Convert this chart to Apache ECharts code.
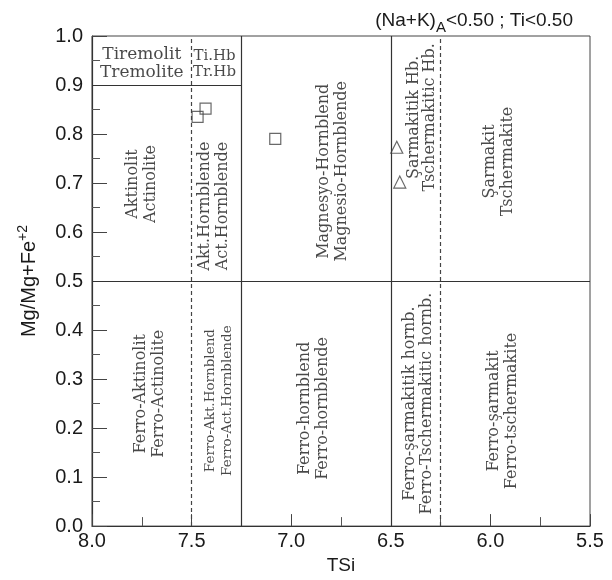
<!DOCTYPE html>
<html>
<head>
<meta charset="utf-8">
<script src="https://cdn.jsdelivr.net/npm/echarts@6/dist/echarts.min.js"></script>
<style>html,body{margin:0;padding:0;background:#fff}#c{width:612px;height:580px}</style>
</head>
<body>
<div id="c"></div>
<script>
// Axis ticks
const xTicks = [5.5, 6.0, 6.5, 7.0, 7.5, 8.0];
const yTicks = [0, 0.1, 0.2, 0.3, 0.4, 0.5, 0.6, 0.7, 0.8, 0.9, 1.0];

// Sample points
const squaresTSi = [7.47, 7.43, 7.08];
const squaresMg = [0.835, 0.852, 0.790];
const trianglesTSi = [6.47, 6.455];
const trianglesMg = [0.773, 0.702];

// Field boundaries [ [TSi, Mg], [TSi, Mg] ]
const solidBoundaries = [
  [[8.0, 0.5], [5.5, 0.5]],
  [[8.0, 0.9], [7.25, 0.9]],
  [[7.25, 0], [7.25, 1]],
  [[6.5, 0], [6.5, 1]]
];
const dashedBoundaries = [
  [[7.5, 0], [7.5, 1]],
  [[6.25, 0], [6.25, 1]]
];

// Field labels
const fieldTSi = [7.75, 7.39, 6.79, 6.345, 5.96, 7.71, 6.885, 6.36, 5.94];
const fieldMg  = [0.698, 0.653, 0.724, 0.834, 0.744, 0.27, 0.24, 0.25, 0.235];
const fieldText = [
  'Aktinolit\nActinolite',
  'Akt.Hornblende\nAct.Hornblende',
  'Magnesyo-Hornblend\nMagnesio-Hornblende',
  'Şarmakitik Hb.\nTschermakitic Hb.',
  'Şarmakit\nTschermakite',
  'Ferro-Aktinolit\nFerro-Actinolite',
  'Ferro-hornblend\nFerro-hornblende',
  'Ferro-şarmakitik hornb.\nFerro-Tschermakitic hornb.',
  'Ferro-şarmakit\nFerro-tschermakite'
];
const fieldLineHeight = [18, 18, 18, 16, 18, 18, 18, 17, 18];
const smallFieldTSi = [7.36];
const smallFieldMg = [0.256];
const smallFieldText = ['Ferro-Akt.Hornblend\nFerro-Act.Hornblende'];

const flatTSi = [7.75, 7.385];
const flatMg = [0.943, 0.943];
const flatText = ['Tiremolit\nTremolite', 'Ti.Hb\nTr.Hb'];
const flatSize = [17, 15];

const chart = echarts.init(document.getElementById('c'), null, {renderer: 'canvas'});

const serif = 'DejaVu Serif';
const sans = 'Liberation Sans';
const ink = '#1a1a1a';

function labelSeries(xs, ys, texts, opts) {
  return {
    type: 'scatter',
    symbolSize: 0,
    silent: true,
    z: 5,
    data: xs.map((x, i) => {
      const d = {value: [x, ys[i]], name: texts[i]};
      if (opts.sizes) d.label = {fontSize: opts.sizes[i], lineHeight: opts.sizes[i] + 1};
      if (opts.lineHeights) d.label = {lineHeight: opts.lineHeights[i]};
      return d;
    }),
    label: {
      show: true,
      position: 'inside',
      rotate: opts.rotate,
      formatter: p => p.name,
      fontFamily: serif,
      fontSize: opts.fontSize,
      lineHeight: opts.lineHeight,
      color: ink,
      align: 'center',
      verticalAlign: 'middle'
    }
  };
}

const option = {
  animation: false,
  backgroundColor: '#fff',
  title: {
    text: '{n|(Na+K)}{s|A}{n|<0.50 ; Ti<0.50}',
    right: 34,
    top: 6,
    textStyle: {
      fontWeight: 'normal',
      rich: {
        n: {fontFamily: sans, fontSize: 19, fontWeight: 'normal', color: ink, verticalAlign: 'bottom', padding: [0, 0, 5, 0]},
        s: {fontFamily: sans, fontSize: 15, fontWeight: 'normal', color: ink, verticalAlign: 'bottom'}
      }
    }
  },
  grid: {left: 92, right: 22, top: 36, bottom: 51, show: true, borderColor: '#444', borderWidth: 1, backgroundColor: 'transparent'},
  xAxis: {
    type: 'value',
    min: xTicks[0],
    max: xTicks[xTicks.length - 1],
    interval: 0.5,
    inverse: true,
    name: 'TSi',
    nameLocation: 'middle',
    nameGap: 28,
    nameTextStyle: {fontFamily: sans, fontSize: 19, color: ink},
    axisLine: {lineStyle: {color: '#333', width: 1.2}},
    axisTick: {inside: true, length: 12, lineStyle: {color: '#444'}},
    minorTick: {show: true, splitNumber: 2, length: 9, lineStyle: {color: '#555'}},
    splitLine: {show: false},
    axisLabel: {fontFamily: sans, fontSize: 20, color: ink, margin: 5, formatter: v => v.toFixed(1)}
  },
  yAxis: {
    type: 'value',
    min: yTicks[0],
    max: yTicks[yTicks.length - 1],
    interval: 0.1,
    name: '{m|Mg/Mg+Fe}{s|+2}',
    nameLocation: 'middle',
    nameGap: 53,
    nameTextStyle: {
      rich: {
        m: {fontFamily: sans, fontSize: 20, color: ink, verticalAlign: 'bottom'},
        s: {fontFamily: sans, fontSize: 14, color: ink, verticalAlign: 'bottom', padding: [0, 0, 9, 0]}
      }
    },
    axisLine: {lineStyle: {color: '#333', width: 1.2}},
    axisTick: {inside: true, length: 15, lineStyle: {color: '#444'}},
    minorTick: {show: true, splitNumber: 2, length: 8, lineStyle: {color: '#555'}},
    splitLine: {show: false},
    axisLabel: {fontFamily: sans, fontSize: 20, color: ink, margin: 9, formatter: v => v.toFixed(1)}
  },
  series: [
    {
      type: 'lines',
      coordinateSystem: 'cartesian2d',
      silent: true,
      z: 3,
      lineStyle: {color: '#333', width: 1.2, type: 'solid', opacity: 1},
      data: solidBoundaries.map(s => ({coords: s}))
    },
    {
      type: 'lines',
      coordinateSystem: 'cartesian2d',
      silent: true,
      z: 3,
      lineStyle: {color: '#444', width: 1.2, type: [4, 3], opacity: 1},
      data: dashedBoundaries.map(s => ({coords: s}))
    },
    labelSeries(fieldTSi, fieldMg, fieldText, {rotate: 90, fontSize: 16, lineHeight: 18, lineHeights: fieldLineHeight}),
    labelSeries(smallFieldTSi, smallFieldMg, smallFieldText, {rotate: 90, fontSize: 13.5, lineHeight: 17}),
    labelSeries(flatTSi, flatMg, flatText, {rotate: 0, fontSize: 17, lineHeight: 17, sizes: flatSize}),
    {
      type: 'scatter',
      symbol: 'rect',
      symbolSize: 11,
      z: 6,
      itemStyle: {color: 'rgba(255,255,255,0)', borderColor: '#444', borderWidth: 1.2},
      data: squaresTSi.map((x, i) => [x, squaresMg[i]])
    },
    {
      type: 'scatter',
      symbol: 'triangle',
      symbolSize: 12,
      z: 6,
      itemStyle: {color: 'rgba(255,255,255,0)', borderColor: '#444', borderWidth: 1.2},
      data: trianglesTSi.map((x, i) => [x, trianglesMg[i]])
    }
  ]
};
chart.setOption(option);
</script>
</body>
</html>
